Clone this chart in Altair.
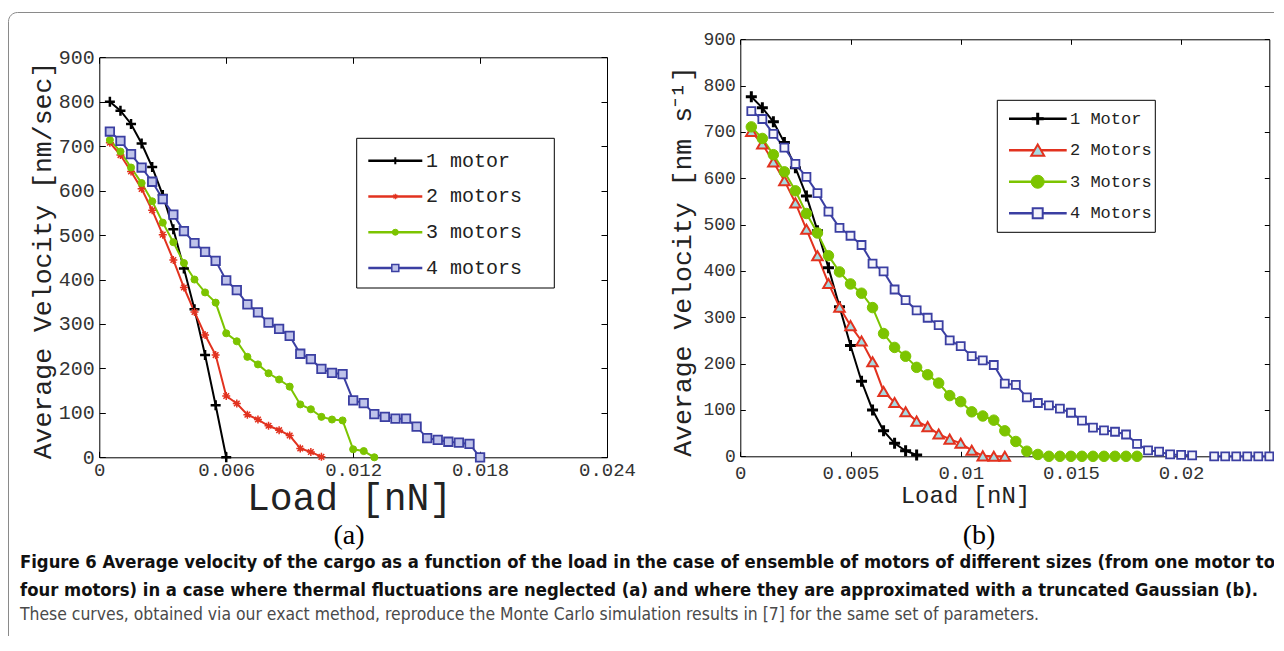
import altair as alt
import pandas as pd

# ---------------- data ----------------
LOAD = [0.0005, 0.001, 0.0015, 0.002, 0.0025, 0.003, 0.0035, 0.004, 0.0045, 0.005,
        0.0055, 0.006, 0.0065, 0.007, 0.0075, 0.008, 0.0085, 0.009, 0.0095, 0.01,
        0.0105, 0.011, 0.0115, 0.012, 0.0125, 0.013, 0.0135, 0.014, 0.0145, 0.015,
        0.0155, 0.016, 0.0165, 0.017, 0.0175, 0.018, 0.0185, 0.019, 0.0195, 0.02,
        0.0205, 0.021, 0.0215, 0.022, 0.0225, 0.023, 0.0235, 0.024]

SERIES_A = ["1 motor", "2 motors", "3 motors", "4 motors"]
SERIES_B = ["1 Motor", "2 Motors", "3 Motors", "4 Motors"]
COLORS = ["#000000", "#e2321f", "#7cc400", "#3b3fa2"]

# panel (a): thermal fluctuations neglected
A1 = [800, 780, 750, 706, 653, 590, 513, 425, 333, 230, 117, 0]
A2 = [708, 680, 643, 604, 556, 501, 444, 382, 327, 275, 230, 138, 121, 96, 85, 71,
      61, 49, 20, 12, 1]
A3 = [714, 688, 652, 617, 576, 528, 484, 437, 400, 371, 348, 279, 261, 226, 209, 189,
      175, 159, 119, 108, 91, 85, 83, 18, 14, 0]
A4 = [733, 712, 682, 652, 620, 581, 546, 509, 482, 462, 442, 398, 376, 344, 326, 303,
      289, 273, 233, 221, 199, 190, 187, 128, 122, 97, 91, 87, 87, 69, 43, 39, 35, 33,
      30, 0]

# panel (b): truncated Gaussian fluctuations
B1 = [776, 752, 722, 677, 623, 562, 487, 407, 323, 239, 162, 100, 55, 28, 12, 3]
B2 = [701, 674, 635, 595, 547, 490, 433, 373, 322, 282, 249, 204, 140, 116, 96, 76,
      64, 48, 37, 28, 13, 1, 0, 0]
B3 = [711, 686, 651, 614, 573, 524, 482, 433, 398, 372, 352, 321, 265, 235, 216, 192,
      176, 158, 131, 118, 96, 87, 78, 55, 32, 11, 4, 0, 0, 0, 0, 0, 0, 0, 0, 0]
B4 = [745, 728, 696, 666, 631, 603, 568, 528, 493, 476, 456, 416, 399, 360, 337, 315,
      299, 283, 250, 238, 216, 207, 197, 157, 154, 127, 115, 110, 103, 94, 77, 62, 56,
      53, 47, 27, 13, 10, 4, 3, 2, None, 0, 0, 0, 0, 0, 0]

X_TICKS_A = [0, 0.006, 0.012, 0.018, 0.024]
X_TICKS_B = [0, 0.005, 0.01, 0.015, 0.02]
Y_TICKS = [0, 100, 200, 300, 400, 500, 600, 700, 800, 900]

TITLE_Y_A = "Average Velocity [nm/sec]"
TITLE_Y_B = "Average Velocity [nm s\u207b\u00b9]"
TITLE_X = "Load [nN]"
CAP_A = "(a)"
CAP_B = "(b)"
CAPTION_1 = ("Figure 6 Average velocity of the cargo as a function of the load in the case of "
             "ensemble of motors of different sizes (from one motor to")
CAPTION_2 = ("four motors) in a case where thermal fluctuations are neglected (a) and where "
             "they are approximated with a truncated Gaussian (b).")
CAPTION_3 = ("These curves, obtained via our exact method, reproduce the Monte Carlo simulation "
             "results in [7] for the same set of parameters.")

# ---------------- layout ----------------
W, H = 1266, 628
MONO = "Liberation Mono"
GA = dict(x0=91.3, x1=599.0, y0=449.3, y1=49.3, xmax=0.024)
GB = dict(x0=732.3, x1=1261.3, y0=448.3, y1=31.3, xmax=0.024)


def long_df(names, lists):
    rows = []
    for name, vals in zip(names, lists):
        seg = 0
        for x, v in zip(LOAD, vals):
            if v is None:
                seg += 1
                continue
            rows.append({"load": x, "vel": v, "series": name, "seg": seg})
    return pd.DataFrame(rows)


def scales(g):
    xs = alt.Scale(domain=[0, g["xmax"]], range=[g["x0"], g["x1"]], nice=False, zero=False)
    ys = alt.Scale(domain=[0, 900], range=[g["y0"], g["y1"]], nice=False, zero=False)
    return xs, ys


def axis_layers(df, g, xt, cfg):
    xs, ys = scales(g)
    common = dict(grid=False, domainColor="black", domainWidth=1, tickColor="black",
                  tickWidth=1, labelFlush=False, labelOverlap=False)
    ax1 = alt.Axis(orient="bottom", offset=g["y0"] - H, values=xt, format="~g", ticks=False,
                   labelFont=MONO, labelFontSize=cfg["xls"], labelColor="#333333",
                   labelPadding=cfg["xlp"], title=TITLE_X, titleFont=MONO,
                   titleFontSize=cfg["xts"], titleFontWeight="normal", titleColor="#222222",
                   titleX=cfg["xtx"], titleY=cfg["xty"], titleBaseline="alphabetic",
                   titleAlign="center", **common)
    ay1 = alt.Axis(orient="left", offset=-g["x0"], values=Y_TICKS, ticks=False,
                   labelFont=MONO, labelFontSize=cfg["yls"], labelColor="#333333",
                   labelPadding=cfg["ylp"], title=cfg["ytitle"], titleFont=MONO,
                   titleFontSize=cfg["yts"], titleFontWeight="normal", titleColor="#222222",
                   titleAngle=270, titleX=cfg["ytx"], titleY=cfg["yty"],
                   titleBaseline="alphabetic", titleAlign="center", **common)
    ax2 = alt.Axis(orient="top", offset=-g["y0"], values=xt, labels=False, domain=False,
                   tickSize=cfg["ts"], title="", **common)
    ay2 = alt.Axis(orient="right", offset=g["x0"] - W, values=Y_TICKS, labels=False,
                   domain=False, tickSize=cfg["ts"], title="", **common)
    ax3 = alt.Axis(orient="bottom", offset=g["y1"] - H, values=xt, labels=False,
                   tickSize=cfg["ts"], title="", **common)
    ay3 = alt.Axis(orient="left", offset=-g["x1"], values=Y_TICKS, labels=False,
                   tickSize=cfg["ts"], title="", **common)
    out = []
    for ax, ay in [(ax1, ay1), (ax2, ay2), (ax3, ay3)]:
        out.append(alt.Chart(df).mark_point(opacity=0).encode(
            x=alt.X("load:Q", scale=xs, axis=ax),
            y=alt.Y("vel:Q", scale=ys, axis=ay)))
    return out


def data_layers(df, names, g, styles):
    xs, ys = scales(g)
    out = [alt.Chart(df).mark_line(strokeWidth=2).encode(
        x=alt.X("load:Q", scale=xs, axis=None),
        y=alt.Y("vel:Q", scale=ys, axis=None),
        color=alt.Color("series:N", scale=alt.Scale(domain=names, range=COLORS), legend=None),
        detail="seg:N")]
    for name, st in zip(names, styles):
        out.append(alt.Chart(df[df.series == name]).mark_point(opacity=1, filled=True, **st).encode(
            x=alt.X("load:Q", scale=xs, axis=None),
            y=alt.Y("vel:Q", scale=ys, axis=None)))
    return out


def legend_layers(names, geo, styles, fsize):
    ldf = pd.DataFrame({"series": names})
    ly = alt.Y("series:N", scale=alt.Scale(type="point", domain=names,
                                           range=[geo["ey0"], geo["ey1"]], padding=0), axis=None)
    out = [alt.Chart(pd.DataFrame({"a": [0]})).mark_rect(fill="white", stroke="black",
                                                        strokeWidth=1).encode(
        x=alt.value(geo["bx0"]), x2=alt.value(geo["bx1"]),
        y=alt.value(geo["by0"]), y2=alt.value(geo["by1"]))]
    out.append(alt.Chart(ldf).mark_rule(strokeWidth=2.5).encode(
        x=alt.value(geo["lx0"]), x2=alt.value(geo["lx1"]), y=ly,
        color=alt.Color("series:N", scale=alt.Scale(domain=names, range=COLORS), legend=None)))
    for name, st in zip(names, styles):
        out.append(alt.Chart(ldf[ldf.series == name]).mark_point(opacity=1, filled=True, **st).encode(
            x=alt.value(geo["mx"]), y=ly))
    out.append(alt.Chart(ldf).mark_text(align="left", baseline="middle", font=MONO,
                                        fontSize=fsize, color="#222222").encode(
        x=alt.value(geo["tx"]), y=ly, text="series:N"))
    return out


def text_layer(txt, x, y, **kw):
    return alt.Chart(pd.DataFrame({"t": [txt]})).mark_text(**kw).encode(
        x=alt.value(x), y=alt.value(y), text="t:N")


PLUS = "M-1,0H1M0,-1V1"
STAR = "M-1,0H1M0,-1V1M-0.7,-0.7L0.7,0.7M-0.7,0.7L0.7,-0.7"

STYLE_A = [
    dict(shape=PLUS, size=100, stroke=COLORS[0], fill=COLORS[0], strokeWidth=2.5),
    dict(shape=STAR, size=64, stroke=COLORS[1], fill=COLORS[1], strokeWidth=1.5),
    dict(shape="circle", size=50, stroke=COLORS[2], fill=COLORS[2], strokeWidth=1),
    dict(shape="square", size=72, stroke=COLORS[3], fill="#bfc3ea", strokeWidth=1.8),
]
STYLE_A_LEG = [
    dict(shape=PLUS, size=49, stroke=COLORS[0], fill=COLORS[0], strokeWidth=2),
    dict(shape=STAR, size=30, stroke=COLORS[1], fill=COLORS[1], strokeWidth=1.2),
    dict(shape="circle", size=36, stroke=COLORS[2], fill=COLORS[2], strokeWidth=1),
    dict(shape="square", size=49, stroke=COLORS[3], fill="#bfc3ea", strokeWidth=1.5),
]
STYLE_B = [
    dict(shape=PLUS, size=121, stroke=COLORS[0], fill=COLORS[0], strokeWidth=3),
    dict(shape="triangle-up", size=110, stroke=COLORS[1], fill="#a6dbe3", strokeWidth=2),
    dict(shape="circle", size=110, stroke=COLORS[2], fill=COLORS[2], strokeWidth=1),
    dict(shape="square", size=64, stroke=COLORS[3], fill="#f4f4fb", strokeWidth=1.8),
]
STYLE_B_LEG = [
    dict(shape=PLUS, size=144, stroke=COLORS[0], fill=COLORS[0], strokeWidth=3),
    dict(shape="triangle-up", size=169, stroke=COLORS[1], fill="#a6dbe3", strokeWidth=2),
    dict(shape="circle", size=169, stroke=COLORS[2], fill=COLORS[2], strokeWidth=1),
    dict(shape="square", size=100, stroke=COLORS[3], fill="#f4f4fb", strokeWidth=2),
]

df_a = long_df(SERIES_A, [A1, A2, A3, A4])
df_b = long_df(SERIES_B, [B1, B2, B3, B4])

CFG_A = dict(xls=19, xlp=3, xts=38, xtx=341, xty=52, yls=20, ylp=5, ytitle=TITLE_Y_A,
             yts=26.5, ytx=-49.3, yty=252, ts=6)
CFG_B = dict(xls=19, xlp=7, xts=24, xtx=957, xty=45.7, yls=18, ylp=5, ytitle=TITLE_Y_B,
             yts=26.5, ytx=-50.3, yty=253, ts=5)

LEG_A = dict(bx0=348.7, bx1=546.3, by0=130.3, by1=280, ey0=152.7, ey1=260,
             lx0=360.3, lx1=414.3, mx=387.3, tx=418)
LEG_B = dict(bx0=989.3, bx1=1147.3, by0=92.3, by1=224.3, ey0=110.7, ey1=205.3,
             lx0=1001, lx1=1058.7, mx=1029.7, tx=1062)

layers = []
layers.append(alt.Chart(pd.DataFrame({"a": [0]})).mark_rect(
    cornerRadius=9, fill="white", fillOpacity=0, stroke="#8a8a8a", strokeWidth=1).encode(
    x=alt.value(0.5), x2=alt.value(1500), y=alt.value(4.5), y2=alt.value(900)))
layers += data_layers(df_a, SERIES_A, GA, STYLE_A)
layers += data_layers(df_b, SERIES_B, GB, STYLE_B)
layers += axis_layers(df_a, GA, X_TICKS_A, CFG_A)
layers += axis_layers(df_b, GB, X_TICKS_B, CFG_B)
layers += legend_layers(SERIES_A, LEG_A, STYLE_A_LEG, 20)
layers += legend_layers(SERIES_B, LEG_B, STYLE_B_LEG, 17)
layers.append(text_layer(CAP_A, 341, 528, font="Liberation Serif", fontSize=28,
                         align="center", baseline="middle", color="#000000"))
layers.append(text_layer(CAP_B, 971, 528, font="Liberation Serif", fontSize=28,
                         align="center", baseline="middle", color="#000000"))
CAPFONT = "Liberation Sans Narrow, DejaVu Sans Condensed, Liberation Sans"
layers.append(text_layer(CAPTION_1, 12, 555, font=CAPFONT, fontSize=18.3, fontWeight="bold",
                         align="left", baseline="middle", color="#111111"))
layers.append(text_layer(CAPTION_2, 12, 583, font=CAPFONT, fontSize=18.3, fontWeight="bold",
                         align="left", baseline="middle", color="#111111"))
layers.append(text_layer(CAPTION_3, 12, 607, font=CAPFONT, fontSize=17.4,
                         align="left", baseline="middle", color="#4a4a4a"))

chart = alt.layer(*layers).resolve_scale(
    x="independent", y="independent", color="independent"
).properties(
    width=W, height=H, padding=0, autosize=alt.AutoSizeParams(type="none")
).configure_view(strokeWidth=0)

chart.save("out.html", embed_options={"renderer": "svg", "actions": False})
